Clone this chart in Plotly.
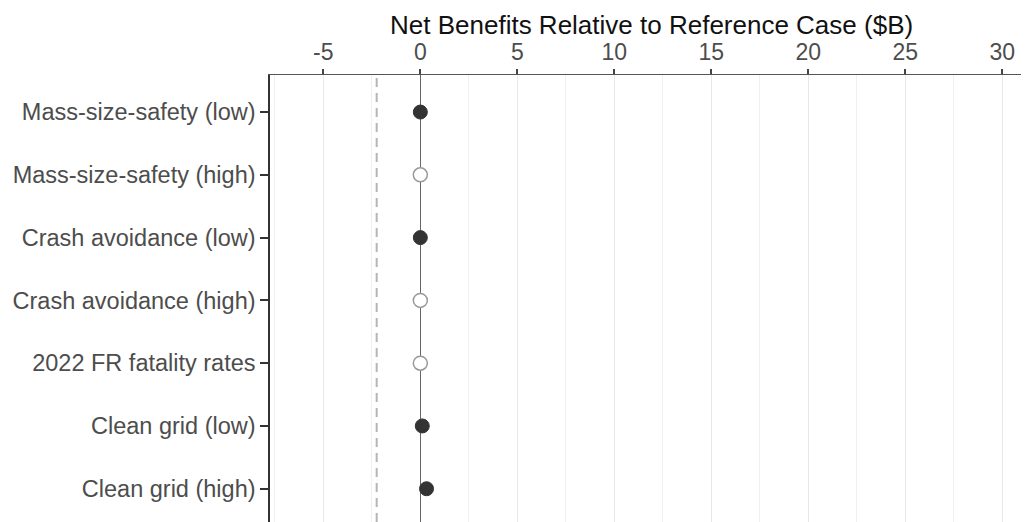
import plotly.graph_objects as go

categories = ["Mass-size-safety (low)", "Mass-size-safety (high)", "Crash avoidance (low)",
              "Crash avoidance (high)", "2022 FR fatality rates", "Clean grid (low)", "Clean grid (high)"]
net_benefits = [0.0, 0.0, 0.0, 0.0, 0.0, 0.1, 0.32]
filled = [True, False, True, False, False, True, True]
dashed_ref = -2.25
tick_vals = [-5, 0, 5, 10, 15, 20, 25, 30]
tick_text = ["-5", "0", "5", "10", "15", "20", "25", "30"]

fx = [v for v, f in zip(net_benefits, filled) if f]
fy = [c for c, f in zip(categories, filled) if f]
ox = [v for v, f in zip(net_benefits, filled) if not f]
oy = [c for c, f in zip(categories, filled) if not f]

fig = go.Figure()
fig.add_trace(go.Scatter(x=ox, y=oy, mode="markers", showlegend=False,
                         marker=dict(size=14, color="white", line=dict(color="#999999", width=1.5))))
fig.add_trace(go.Scatter(x=fx, y=fy, mode="markers", showlegend=False,
                         marker=dict(size=14, color="#333333", line=dict(color="#333333", width=1))))

fig.add_shape(type="line", xref="x", yref="paper", x0=dashed_ref, x1=dashed_ref, y0=0, y1=1,
              line=dict(color="#b5b5b5", width=2, dash="9px,6px"), layer="below")

fig.update_layout(
    width=1021, height=514,
    margin=dict(l=262, r=0, t=67, b=0, autoexpand=False),
    plot_bgcolor="white", paper_bgcolor="white",
    font=dict(family="Liberation Sans, Arial, sans-serif", size=23.5, color="#4d4d4d"),
    xaxis=dict(side="top", range=[-7.75, 31.38], tickvals=tick_vals, ticktext=tick_text,
               showgrid=True, gridcolor="#e8e8e8", gridwidth=1,
               minor=dict(tickvals=[-7.5 + 5 * i for i in range(8)], showgrid=True,
                          gridcolor="#f0f0f0", gridwidth=1),
               zeroline=True, zerolinecolor="#666666", zerolinewidth=1,
               showline=True, linecolor="#555555", linewidth=1,
               ticks="outside", ticklen=5, tickcolor="#444444", tickwidth=1.5,
               tickfont=dict(size=23, color="#4d4d4d"), automargin=False),
    yaxis=dict(type="category", categoryorder="array", categoryarray=categories,
               range=[6.53, -0.59], showgrid=False, zeroline=False,
               showline=True, linecolor="#333333", linewidth=1.5,
               ticks="outside", ticklen=8, tickcolor="#333333", tickwidth=1.5,
               tickfont=dict(size=23.5, color="#4d4d4d"), automargin=False),
    annotations=[dict(text="Net Benefits Relative to Reference Case ($B)", xref="paper", yref="paper",
                      x=0.503, y=1, yshift=50, showarrow=False, xanchor="center", yanchor="middle",
                      font=dict(size=26, color="#111111"))],
)

fig.write_html("out.html")
